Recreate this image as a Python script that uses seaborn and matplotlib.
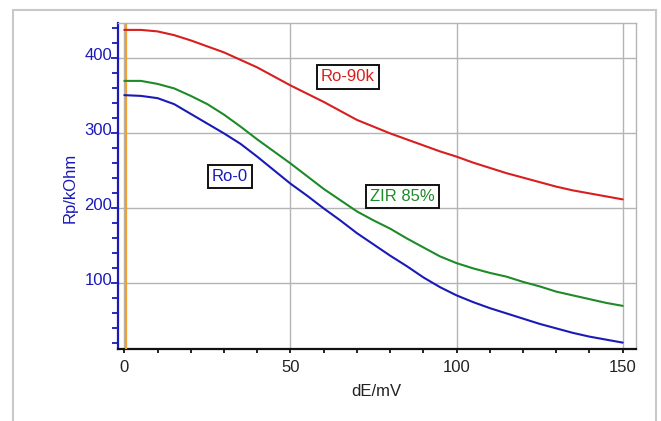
import numpy as np
import pandas as pd
import matplotlib
matplotlib.use("Agg")
import matplotlib.pyplot as plt
from matplotlib.patches import Rectangle
from matplotlib.ticker import MultipleLocator
from matplotlib.transforms import ScaledTranslation
import seaborn as sns

# Polarisation resistance vs. potential step
de_mv = [0, 5, 10, 15, 20, 25, 30, 35, 40, 45, 50, 55, 60, 65, 70, 75,
         80, 85, 90, 95, 100, 105, 110, 115, 120, 125, 130, 135, 140, 145, 150]
rp_ro90k = [438, 438, 436, 431, 424, 416, 408, 398, 388, 376, 364, 353, 342, 330, 318, 309,
            300, 292, 284, 276, 269, 261, 254, 247, 241, 235, 229, 224, 220, 216, 212]
rp_zir85 = [370, 370, 366, 360, 350, 339, 325, 309, 292, 276, 260, 243, 226, 211, 196, 184,
            173, 160, 148, 136, 127, 120, 114, 109, 102, 96, 89, 84, 79, 74, 70]
rp_ro0 = [351, 350, 347, 339, 326, 313, 300, 286, 269, 251, 233, 217, 200, 184, 167, 152,
          137, 123, 108, 95, 84, 75, 67, 60, 53, 46, 40, 34, 29, 25, 21]

series_names = ["Ro-90k", "ZIR 85%", "Ro-0"]
series_colors = ["#d81e1e", "#1f8a2a", "#1a1ab8"]
x_ticks = [0, 50, 100, 150]
y_ticks = [100, 200, 300, 400]

df = pd.DataFrame({
    "dE": de_mv * 3,
    "Rp": rp_ro90k + rp_zir85 + rp_ro0,
    "sample": [series_names[0]] * len(de_mv) + [series_names[1]] * len(de_mv)
              + [series_names[2]] * len(de_mv),
})

sns.set_theme(style="white")
plt.rcParams["font.family"] = ["Liberation Sans", "DejaVu Sans"]

fig = plt.figure(figsize=(6.61, 4.21), dpi=100)
ax = fig.add_axes([118 / 661, 1 - 349 / 421, 518 / 661, 326 / 421])

# outer light frame
fig.patches.append(Rectangle((13 / 661, -0.05), 643 / 661, 1.05 - 10 / 421,
                             transform=fig.transFigure, fill=False,
                             edgecolor="#c9c9c9", linewidth=1.5))

ax.axvline(0.4, color="#f0a030", linewidth=1.6, zorder=3)

sns.lineplot(data=df, x="dE", y="Rp", hue="sample", hue_order=series_names,
             palette=series_colors, linewidth=1.5, legend=False, ax=ax, zorder=4)

ax.set_xlim(-1.9, 154)
ax.set_ylim(12.5, 447.2)
ax.set_xticks(x_ticks)
ax.set_yticks(y_ticks)
ax.xaxis.set_minor_locator(MultipleLocator(10))
ax.yaxis.set_minor_locator(MultipleLocator(20))
ax.grid(True, which="major", color="#b4b4b4", linewidth=1.0)
ax.set_axisbelow(True)

for side in ["top", "right"]:
    ax.spines[side].set_color("#b4b4b4")
    ax.spines[side].set_linewidth(1.0)
ax.spines["left"].set_color("#1a1ab8")
ax.spines["left"].set_linewidth(1.6)
ax.spines["bottom"].set_color("#111111")
ax.spines["bottom"].set_linewidth(1.6)

ax.tick_params(axis="x", which="major", direction="out", length=3, width=1.3,
               color="#111111", labelsize=12, labelcolor="#222222", pad=5,
               bottom=True)
ax.tick_params(axis="x", which="minor", direction="out", length=3, width=1.3,
               color="#111111", bottom=True)
ax.tick_params(axis="y", which="major", direction="out", length=5, width=1.3,
               color="#1a1ab8", labelsize=12, labelcolor="#1a1ab8", pad=-1,
               left=True)
ax.tick_params(axis="y", which="minor", direction="out", length=4, width=1.3,
               color="#1a1ab8", left=True)
for lab in ax.get_yticklabels():
    lab.set_transform(lab.get_transform()
                      + ScaledTranslation(0, 3.5 / 72, fig.dpi_scale_trans))

ax.set_xlabel("")
ax.set_ylabel("")
fig.text(376 / 661, 1 - 392 / 421, "dE/mV", ha="center", va="center",
         fontsize=12, color="#222222")
fig.text(70 / 661, 1 - 188 / 421, "Rp/kOhm", ha="center", va="center",
         rotation=90, fontsize=12, color="#1a1ab8")

label_pos = [(67.3, 375.2), (83.6, 215.9), (31.8, 242.5)]
for name, color, (lx, ly) in zip(series_names, series_colors, label_pos):
    ax.text(lx, ly, name, ha="center", va="center", fontsize=12, color=color,
            zorder=6,
            bbox=dict(boxstyle="square,pad=0.25", facecolor="white",
                      edgecolor="#111111", linewidth=1.4))

fig.savefig("out.png", dpi=100)
